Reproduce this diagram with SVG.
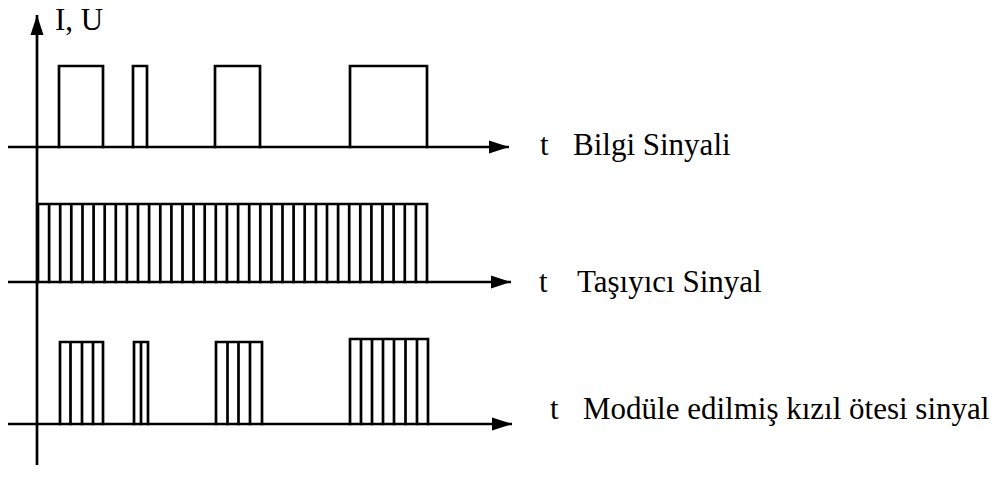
<svg xmlns="http://www.w3.org/2000/svg" width="1003" height="493" viewBox="0 0 1003 493">
  <style>
    .ln { fill: none; stroke: #000; stroke-width: 2.7; stroke-linejoin: miter; stroke-linecap: square; }
    .axis { fill: none; stroke: #000; stroke-width: 2.7; }
    .lbl { font-family: "Liberation Serif", "DejaVu Serif", "Times New Roman", serif; font-size: 31px; fill: #000; }
  </style>
  <defs>
    <marker id="arrow" markerUnits="userSpaceOnUse" markerWidth="22" markerHeight="16" refX="20" refY="8" orient="auto">
      <path d="M0 1.5 L20 8 L0 14.5 Z" fill="#000"/>
    </marker>
  </defs>

  <rect width="1003" height="493" fill="#fff"/>

  <!-- axes: vertical I,U axis and the three time axes -->
  <g id="connectors">
    <line class="axis" x1="37" y1="465" x2="37" y2="15" marker-end="url(#arrow)"/>
    <line class="axis" x1="8" y1="147" x2="509" y2="147" marker-end="url(#arrow)"/>
    <line class="axis" x1="8" y1="282" x2="511" y2="282" marker-end="url(#arrow)"/>
    <line class="axis" x1="8" y1="424" x2="512" y2="424" marker-end="url(#arrow)"/>
  </g>

  <g id="axis-label">
    <text class="lbl" font-family="Liberation Serif, DejaVu Serif, serif" x="55" y="30">I, U</text>
  </g>

  <!-- information signal: four rectangular pulses -->
  <g id="bilgi-sinyali">
    <path class="ln" d="M59 147 V66 H103 V147 M133 147 V66 H147 V147 M215 147 V66 H260 V147 M350 147 V66 H427 V147"/>
    <text class="lbl" font-family="Liberation Serif, DejaVu Serif, serif" x="540" y="155">t</text>
    <text class="lbl" font-family="Liberation Serif, DejaVu Serif, serif" x="573" y="155">Bilgi Sinyali</text>
  </g>

  <!-- carrier signal: continuous comb of narrow pulses -->
  <g id="tasiyici-sinyal">
    <path class="ln" d="M38 204 H427
      M38 282 V204 M49.1 282 V204 M60.2 282 V204 M71.3 282 V204 M82.5 282 V204
      M93.6 282 V204 M104.7 282 V204 M115.8 282 V204 M126.9 282 V204 M138 282 V204
      M149.1 282 V204 M160.3 282 V204 M171.4 282 V204 M182.5 282 V204 M193.6 282 V204
      M204.7 282 V204 M215.8 282 V204 M226.9 282 V204 M238.1 282 V204 M249.2 282 V204
      M260.3 282 V204 M271.4 282 V204 M282.5 282 V204 M293.6 282 V204 M304.7 282 V204
      M315.9 282 V204 M327 282 V204 M338.1 282 V204 M349.2 282 V204 M360.3 282 V204
      M371.4 282 V204 M382.5 282 V204 M393.6 282 V204 M404.8 282 V204 M415.9 282 V204
      M427 282 V204"/>
    <text class="lbl" font-family="Liberation Serif, DejaVu Serif, serif" x="539" y="292">t</text>
    <text class="lbl" font-family="Liberation Serif, DejaVu Serif, serif" x="577" y="292">Taşıyıcı Sinyal</text>
  </g>

  <!-- modulated signal: carrier gated by the information pulses -->
  <g id="module-sinyal">
    <path class="ln" d="M60 342 H103
      M60 424 V342 M70.5 424 V342 M82 424 V342 M93 424 V342 M103 424 V342
      M134 342 H148
      M134 424 V342 M141 424 V342 M148 424 V342
      M216 342 H262
      M216 424 V342 M227.5 424 V342 M238.5 424 V342 M250 424 V342 M262 424 V342
      M350 339 H428
      M350 424 V339 M361 424 V339 M372 424 V339 M383 424 V339 M394 424 V339
      M405.5 424 V339 M417 424 V339 M428 424 V339"/>
    <text class="lbl" font-family="Liberation Serif, DejaVu Serif, serif" x="550" y="419">t</text>
    <text class="lbl" font-family="Liberation Serif, DejaVu Serif, serif" x="583" y="419">Modüle edilmiş kızıl ötesi sinyal</text>
  </g>
</svg>
